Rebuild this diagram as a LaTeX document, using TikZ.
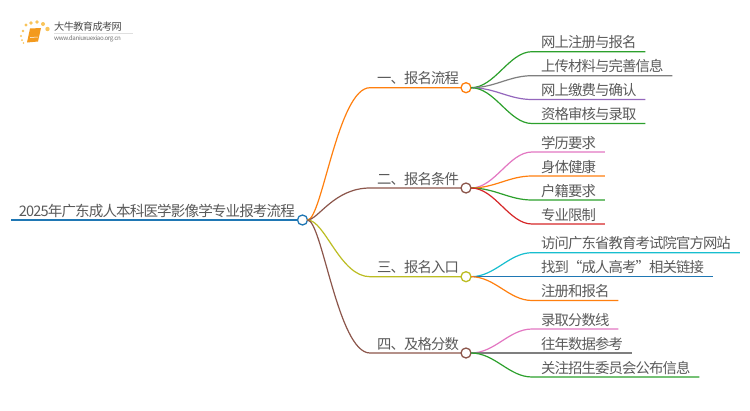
\documentclass[tikz,border=0pt]{standalone}
\usepackage{fontspec}
\setmainfont[LetterSpace=-6]{Noto Sans CJK SC}
\definecolor{tabblue}{HTML}{1F77B4}
\definecolor{taborange}{HTML}{FF7F0E}
\definecolor{tabgreen}{HTML}{2CA02C}
\definecolor{tabred}{HTML}{D62728}
\definecolor{tabpurple}{HTML}{9467BD}
\definecolor{tabbrown}{HTML}{8C564B}
\definecolor{tabpink}{HTML}{E377C2}
\definecolor{tabgray}{HTML}{7F7F7F}
\definecolor{tabolive}{HTML}{BCBD22}
\definecolor{tabcyan}{HTML}{17BECF}
\definecolor{labelgray}{HTML}{5A5A5A}
\definecolor{bookorange}{HTML}{F39A1E}
\definecolor{sunyellow}{HTML}{F9C45A}
\tikzset{
  label text/.style={anchor=south west, text=labelgray, font=\fontsize{14.36pt}{16pt}\selectfont,
    text height=11pt, text depth=2pt, inner ysep=2pt, outer sep=0pt},
  leaf/.style={label text, inner xsep=9pt},
  branch/.style={label text, inner xsep=7pt},
  dot/.style={circle, draw=#1, fill=white, line width=1.3pt, minimum size=10pt, inner sep=0pt, outer sep=0pt},
  wire/.style={draw=#1, line width=1.2pt}
}
\begin{document}
\begin{tikzpicture}[x=1pt,y=-1pt]
\useasboundingbox (0,0) rectangle (750,410);
\fill[white] (0,0) rectangle (750,410);

\foreach \dotx/\doty/\dotr in {26/25/1.6,31/23/1.9,37/22/1.9,43/24/2,47.5/29/2.2,23/31/1.4,21/36/1.2,22/40/1,23.5/43/.8}
  \fill[sunyellow] (\dotx,\doty) circle (\dotr);
\fill[bookorange] (30,28.5) -- (41,28) -- (38,41.5) -- (27,42.5) -- cycle;
\draw[white,line width=.5pt] (30,37.5) -- (38,37);
\draw[gray!25,line width=.5pt] (54,33.5) -- (133,33.5);
\node[anchor=west, inner sep=0pt, text=black!70, font=\fontsize{10.2pt}{11pt}\selectfont] (logotitle) at (54,27) {大牛教育成考网};
\node[anchor=west, inner sep=0pt, text=black!55, font=\fontsize{6.2pt}{7pt}\selectfont] (logourl) at (54,39) {www.daniuxuexiao.org.cn};

\node[dot=tabblue] (rootdot) at (302.5,220) {};
\node[label text, inner xsep=8pt, font=\fontsize{14.55pt}{16pt}\selectfont] (root) at (11,220) {2025年广东成人本科医学影像学专业报考流程};
\draw[wire=tabblue, line width=1.5pt] (root.south west) -- (rootdot.west);

\node[dot=taborange] (dotA) at (466,87.7) {};
\node[dot=tabbrown] (dotB) at (466,188) {};
\node[dot=tabolive] (dotC) at (466,276.7) {};
\node[dot=tabbrown] (dotD) at (466,353) {};
\node[branch] (branchA) at (370,87.7) {一、报名流程};
\node[branch] (branchB) at (370,188) {二、报名条件};
\node[branch] (branchC) at (370,276.7) {三、报名入口};
\node[branch] (branchD) at (370,353) {四、及格分数};
\draw[wire=taborange] (rootdot.east) .. controls (322,220) and (338,87.7) .. (branchA.south west) -- (dotA.west);
\draw[wire=tabbrown] (rootdot.east) .. controls (318,220) and (334,188) .. (branchB.south west) -- (dotB.west);
\draw[wire=tabolive] (rootdot.east) .. controls (325,220) and (340,276.7) .. (branchC.south west) -- (dotC.west);
\draw[wire=tabbrown] (rootdot.east) .. controls (322,220) and (338,353) .. (branchD.south west) -- (dotD.west);

\node[leaf] (leafA1) at (532,51.7) {网上注册与报名};
\node[leaf] (leafA2) at (532,75.7) {上传材料与完善信息};
\node[leaf] (leafA3) at (532,99.5) {网上缴费与确认};
\node[leaf] (leafA4) at (532,123.5) {资格审核与录取};
\draw[wire=tabgreen] (dotA.east) .. controls (495,87.7) and (509,51.7) .. (leafA1.south west) -- (leafA1.south east);
\draw[wire=tabgray] (dotA.east) .. controls (495,87.7) and (509,75.7) .. (leafA2.south west) -- (leafA2.south east);
\draw[wire=tabpurple] (dotA.east) .. controls (495,87.7) and (509,99.5) .. (leafA3.south west) -- (leafA3.south east);
\draw[wire=tabgreen] (dotA.east) .. controls (495,87.7) and (509,123.5) .. (leafA4.south west) -- (leafA4.south east);

\node[leaf] (leafB1) at (532,152) {学历要求};
\node[leaf] (leafB2) at (532,176) {身体健康};
\node[leaf] (leafB3) at (532,200) {户籍要求};
\node[leaf] (leafB4) at (532,224) {专业限制};
\draw[wire=tabpink] (dotB.east) .. controls (495,188) and (509,152) .. (leafB1.south west) -- (leafB1.south east);
\draw[wire=taborange] (dotB.east) .. controls (495,188) and (509,176) .. (leafB2.south west) -- (leafB2.south east);
\draw[wire=tabgreen] (dotB.east) .. controls (495,188) and (509,200) .. (leafB3.south west) -- (leafB3.south east);
\draw[wire=tabred] (dotB.east) .. controls (495,188) and (509,224) .. (leafB4.south west) -- (leafB4.south east);

\node[leaf] (leafC1) at (532,252.7) {访问广东省教育考试院官方网站};
\node[leaf] (leafC2) at (532,276.7) {找到“成人高考”相关链接};
\node[leaf] (leafC3) at (532,300.5) {注册和报名};
\draw[wire=tabcyan] (dotC.east) .. controls (495,276.7) and (509,252.7) .. (leafC1.south west) -- (leafC1.south east);
\draw[wire=tabblue] (dotC.east) -- (leafC2.south east);
\draw[wire=taborange] (dotC.east) .. controls (495,276.7) and (509,300.5) .. (leafC3.south west) -- (leafC3.south east);

\node[leaf] (leafD1) at (532,329) {录取分数线};
\node[leaf] (leafD2) at (532,353) {往年数据参考};
\node[leaf] (leafD3) at (532,377) {关注招生委员会公布信息};
\draw[wire=tabpink] (dotD.east) .. controls (495,353) and (509,329) .. (leafD1.south west) -- (leafD1.south east);
\draw[wire=tabgray] (dotD.east) -- (leafD2.south east);
\draw[wire=tabgreen] (dotD.east) .. controls (495,353) and (509,377) .. (leafD3.south west) -- (leafD3.south east);
\end{tikzpicture}
\end{document}
